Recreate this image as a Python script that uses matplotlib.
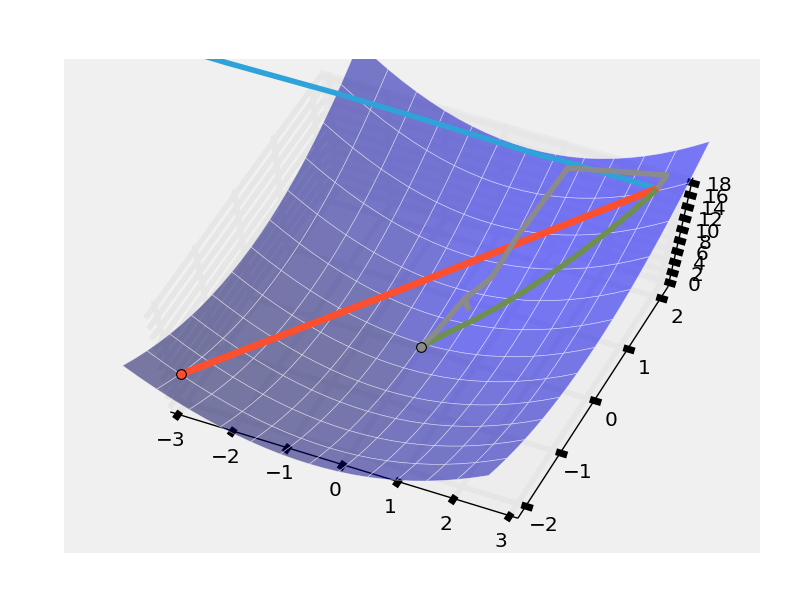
import numpy as np, matplotlib
matplotlib.use('Agg')
import matplotlib.pyplot as plt

grid_x = [-3, -2.75, -2.5, -2.25, -2, -1.75, -1.5, -1.25, -1, -0.75, -0.5, -0.25, 0,
          0.25, 0.5, 0.75, 1, 1.25, 1.5, 1.75, 2, 2.25, 2.5, 2.75, 3]
grid_y = list(grid_x)
height_along_x = [9.04, 7.58, 6.25, 5.05, 3.98, 3.04, 2.22, 1.53, 0.97, 0.54, 0.23, 0.05, 0,
                  0.08, 0.28, 0.61, 1.07, 1.66, 2.38, 3.22, 4.19, 5.29, 6.52, 7.88, 9.36]
height_along_y = [8.81, 7.47, 6.24, 5.13, 4.13, 3.25, 2.48, 1.82, 1.28, 0.86, 0.55, 0.35, 0.27,
                  0.30, 0.45, 0.71, 1.09, 1.58, 2.19, 2.91, 3.75, 4.70, 5.76, 6.94, 8.16]

blue_x = [-5.28, -4.24, -3.02, -1.79, 0.25, 0.61, 2.46]
blue_y = [0.67, 1.55, 2.36, 2.77, 2.95, 2.94, 2.55]
blue_z = [31.61, 22.55, 14.54, 10.26, 8.06, 8.33, 12.25]
red_x = [-2.49, -0.83, 2.51]
red_y = [-2.49, 0.68, 2.54]
red_z = [12.39, 1.29, 12.47]
green_x = [0.03, 0.30, 0.60, 0.89, 1.20, 1.50, 1.75, 2.00, 2.25, 2.50]
green_y = [-0.06, 0.30, 0.60, 0.89, 1.20, 1.50, 1.75, 2.00, 2.25, 2.52]
green_z = [0.28, 0.37, 0.90, 1.74, 3.00, 4.57, 6.14, 7.96, 10.02, 12.36]
grey_x = [0.03, 0.10, 0.23, 0.37, 0.23, 0.37, 0.47, 0.52, 0.80, 2.55, 2.50]
grey_y = [-0.06, 0.23, 0.89, 0.75, 0.89, 1.11, 1.29, 1.91, 2.86, 2.69, 2.53]
grey_z = [0.28, 0.31, 0.98, 0.88, 0.98, 1.44, 1.92, 3.72, 8.20, 13.43, 12.38]

x_ticks = [-3, -2, -1, 0, 1, 2, 3]
y_ticks = [-2, -1, 0, 1, 2]
z_ticks = list(range(0, 19, 2))

plt.style.use('fivethirtyeight')
fig = plt.figure(figsize=(8, 5.96), dpi=100, facecolor='white')
ax = fig.add_axes([.08, .072, .87, .829], projection='3d', computed_zorder=False)
ax.apply_aspect = lambda position=None: None
ax.set_box_aspect((1, 1, 1), zoom=.953)
ax.view_init(elev=68.261, azim=-65.724)

X, Y = np.meshgrid(grid_x, grid_y)
Z = np.add.outer(height_along_y, height_along_x)
ax.plot_surface(X, Y, Z, color='b', alpha=.5, rstride=2, cstride=2,
                edgecolor='white', linewidth=.5, zorder=1)
ax.plot(blue_x, blue_y, blue_z, color='#30a2da', lw=4, zorder=2)
ax.plot(red_x, red_y, red_z, color='#fc4f30', lw=5, zorder=3)
ax.plot(green_x, green_y, green_z, color='#6d904f', lw=4, zorder=4)
ax.plot(grey_x, grey_y, grey_z, color='#8b8b8b', lw=4, zorder=5)
ax.plot(red_x[:1], red_y[:1], red_z[:1], 'o', color='#fc4f30', mec='k', mew=.8, ms=7, zorder=6)
ax.plot(green_x[:1], green_y[:1], green_z[:1], 'o', color='#8b8b8b', mec='k', mew=.8, ms=7, zorder=7)

ax.set_xlim(-3.146, 3.146)
ax.set_ylim(-2.224, 2.224)
ax.set_zlim(-.851, 18.838)
ax.set_xticks(x_ticks)
ax.set_yticks(y_ticks)
ax.set_zticks(z_ticks)
ax.tick_params(labelsize=14.5)
for A in (ax.xaxis, ax.yaxis, ax.zaxis):
    A._axinfo['tick'].update(linewidth={True: 5, False: 5}, color='black',
                             inward_factor=.25, outward_factor=.15)
    A._axinfo['grid'].update(color='#e6e6e6', linewidth=4)
    A.line.set_color('black')
    A.line.set_linewidth(1)
fig.savefig('out.png', dpi=100, facecolor='white')
